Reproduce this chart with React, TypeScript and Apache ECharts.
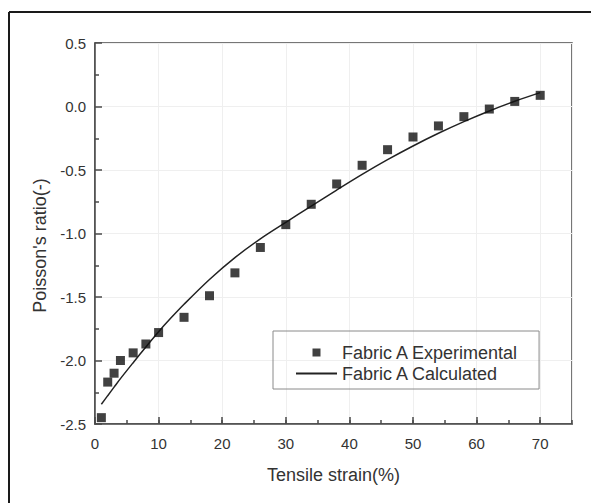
import React, { useEffect, useRef } from "react";
import * as echarts from "echarts";

const xExp = [1, 2, 3, 4, 6, 8, 10, 14, 18, 22, 26, 30, 34, 38, 42, 46, 50, 54, 58, 62, 66, 70];
const yExp = [-2.45, -2.17, -2.1, -2.0, -1.94, -1.87, -1.78, -1.66, -1.49, -1.31, -1.11, -0.93, -0.77, -0.61, -0.463, -0.34, -0.24, -0.153, -0.08, -0.02, 0.04, 0.088];

const xCalc = [1, 2, 3, 4, 6, 8, 10, 12, 14, 18, 22, 26, 30, 34, 38, 42, 46, 50, 54, 58, 62, 66, 70];
const yCalc = [-2.345, -2.277, -2.21, -2.143, -2.017, -1.893, -1.773, -1.662, -1.557, -1.362, -1.19, -1.042, -0.912, -0.784, -0.658, -0.535, -0.419, -0.311, -0.211, -0.119, -0.035, 0.041, 0.109];

const seriesNames = ["Fabric A Experimental", "Fabric A Calculated"];
const xTitle = "Tensile strain(%)";
const yTitle = "Poisson's ratio(-)";

const FONT = "'Liberation Sans', Arial, Helvetica, sans-serif";
const TEXT = "#333";
const AXIS = "#4a4a4a";

export default function App() {
  const ref = useRef<HTMLDivElement>(null);
  useEffect(() => {
    if (!ref.current) return;
    const chart = echarts.init(ref.current, null, { renderer: "svg" });
    chart.setOption({
      animation: false,
      backgroundColor: "#fff",
      textStyle: { fontFamily: FONT },
      graphic: [
        { type: "line", shape: { x1: 9, y1: 12, x2: 591, y2: 12 }, style: { stroke: "#1a1a1a", lineWidth: 2 } },
        { type: "line", shape: { x1: 9, y1: 12, x2: 9, y2: 503 }, style: { stroke: "#1a1a1a", lineWidth: 2 } },
      ],
      grid: {
        left: 95,
        top: 43,
        right: 19,
        bottom: 79,
        show: true,
        borderColor: AXIS,
        borderWidth: 1.5,
        backgroundColor: "#fff",
      },
      legend: {
        orient: "vertical",
        left: 273,
        top: 331,
        padding: [11, 20, 5, 22],
        borderColor: "#8a8a8a",
        borderWidth: 1,
        itemWidth: 41,
        itemHeight: 8,
        itemGap: 0,
        symbolKeepAspect: true,
        textStyle: { fontSize: 18, lineHeight: 21, color: TEXT, fontFamily: FONT },
        data: [
          { name: seriesNames[0], icon: "path://M0,0H1V1H0Z" },
          { name: seriesNames[1], itemStyle: { opacity: 0 } },
        ],
      },
      xAxis: [
        {
          type: "value",
          min: 0,
          max: 75,
          interval: 10,
          name: xTitle,
          nameLocation: "middle",
          nameGap: 42,
          nameTextStyle: { fontSize: 18, color: TEXT, fontFamily: FONT },
          axisLine: { show: true, onZero: false, lineStyle: { color: AXIS, width: 1.5 } },
          axisTick: { show: true, inside: true, length: 7, lineStyle: { color: AXIS, width: 1.5 } },
          axisLabel: { fontSize: 15, color: TEXT, margin: 12, showMaxLabel: false, fontFamily: FONT },
          splitLine: { show: true, lineStyle: { color: "#efefef", width: 1 } },
        },
        {
          type: "value",
          min: 0,
          max: 75,
          interval: 5,
          position: "bottom",
          axisLine: { show: false, onZero: false },
          axisTick: { show: true, inside: true, length: 4, lineStyle: { color: AXIS, width: 1.5 } },
          axisLabel: { show: false },
          splitLine: { show: false },
        },
      ],
      yAxis: {
        type: "value",
        min: -2.5,
        max: 0.5,
        interval: 0.5,
        name: yTitle,
        nameLocation: "middle",
        nameGap: 45,
        nameTextStyle: { fontSize: 18, color: TEXT, fontFamily: FONT, padding: [0, 24, 0, 0] },
        axisLine: { show: true, onZero: false, lineStyle: { color: AXIS, width: 1.5 } },
        axisTick: { show: true, inside: true, length: 7, lineStyle: { color: AXIS, width: 1.5 } },
        minorTick: { show: true, splitNumber: 2, length: 4, lineStyle: { color: AXIS, width: 1.5 } },
        axisLabel: {
          fontSize: 15,
          color: TEXT,
          margin: 9,
          fontFamily: FONT,
          formatter: (v: number) => v.toFixed(1),
        },
        splitLine: { show: true, lineStyle: { color: "#efefef", width: 1 } },
      },
      series: [
        {
          name: seriesNames[0],
          type: "scatter",
          xAxisIndex: 0,
          symbol: "rect",
          symbolSize: 9,
          itemStyle: { color: "#111" },
          data: xExp.map((x, i) => [x, yExp[i]]),
          z: 3,
        },
        {
          name: seriesNames[1],
          type: "line",
          xAxisIndex: 0,
          symbol: "none",
          smooth: 0.3,
          lineStyle: { color: "#222", width: 1.5 },
          itemStyle: { color: "#222" },
          data: xCalc.map((x, i) => [x, yCalc[i]]),
          z: 2,
        },
      ],
    });
    return () => chart.dispose();
  }, []);
  return <div ref={ref} style={{ position: "absolute", left: 0, top: 0, width: 591, height: 503 }} />;
}
